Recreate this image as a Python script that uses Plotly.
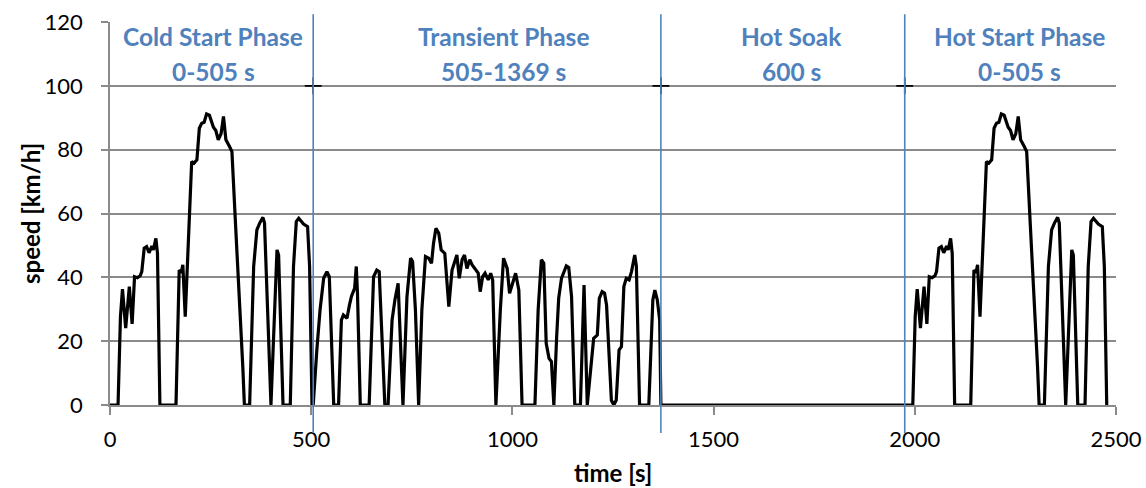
import plotly.graph_objects as go

# FTP-75 speed trace (time in s, speed in km/h)
# Phase 1: cold start, 0-505 s
cold_t = [0, 20, 26, 31, 39, 48, 55, 61, 68, 75, 79, 85, 91, 97, 104, 108, 114, 118, 124,
          164, 172, 177, 181, 187, 203, 209, 216, 222, 228, 234, 240, 247, 257, 263, 269,
          276, 282, 288, 297, 303, 311, 315, 323, 330, 334, 347, 357, 365, 372, 380, 384,
          398, 400, 415, 419, 430, 448, 456, 463, 469, 481, 491, 496, 502]
cold_v = [0, 0, 27.7, 36.3, 24.1, 37.1, 25.4, 40.2, 39.9, 40.5, 41.8, 49.1, 49.6, 47.7, 49.8, 48.6, 52.2, 47.5, 0,
          0, 42.3, 41.4, 43.9, 27.7, 76.3, 75.8, 76.8, 86.7, 88.3, 88.6, 91.2, 90.8, 87.0, 86.0, 83.1,
          85.0, 90.4, 83.1, 81.0, 79.4, 59.0, 49.6, 30.8, 12.0, 0, 0, 43.4, 54.9, 57.0, 58.8, 57.0,
          0, 0, 48.6, 47.0, 0, 0, 43.4, 57.5, 58.5, 56.7, 55.9, 43.4, 0]

# Phase 2: transient, 505-1369 s
trans_t = [505, 514, 522, 531, 539, 545, 556, 568, 575, 580, 589, 595, 600, 608, 612, 615, 622,
           644, 655, 663, 669, 683, 691, 701, 708, 716, 728, 738, 747, 752, 759, 767, 775, 784,
           792, 799, 804, 810, 817, 823, 832, 842, 850, 862, 868, 875, 881, 887, 894, 900, 908,
           915, 920, 926, 932, 940, 946, 951, 959, 970, 978, 987, 993, 999, 1008, 1016, 1024,
           1056, 1064, 1072, 1078, 1084, 1091, 1097, 1103, 1110, 1115, 1122, 1128, 1134, 1140,
           1147, 1155, 1169, 1178, 1186, 1202, 1211, 1216, 1223, 1229, 1234, 1246, 1252, 1258,
           1265, 1271, 1277, 1283, 1290, 1296, 1304, 1308, 1316, 1339, 1349, 1354, 1360, 1366, 1369]
trans_v = [0, 17.2, 29.8, 39.7, 41.8, 40.2, 0, 0, 26.6, 28.2, 27.2, 31.3, 34.0, 36.6, 43.4, 35.0, 0,
           0, 40.2, 42.3, 41.8, 0, 0, 26.6, 32.9, 38.1, 0, 34.0, 46.0, 45.0, 29.8, 0, 29.8, 46.5,
           46.0, 44.4, 50.7, 55.4, 53.8, 48.6, 47.5, 30.8, 42.3, 47.0, 39.7, 45.5, 47.0, 42.8, 45.5, 43.9, 42.3,
           41.3, 35.5, 40.2, 41.3, 39.2, 41.3, 39.2, 0, 29.8, 46.0, 42.8, 35.0, 37.6, 41.3, 36.0, 0,
           0, 29.8, 45.5, 44.4, 19.3, 14.6, 13.6, 0, 21.4, 33.4, 39.7, 41.8, 43.6, 43.1,
           34.0, 0, 0, 37.6, 0, 20.9, 21.9, 33.4, 35.5, 35.0, 31.3, 1.5, 0, 1.5,
           17.2, 18.3, 37.1, 39.7, 39.2, 41.8, 47.0, 43.6, 0, 0, 32.9, 36.0, 33.0, 26.6, 0]

# Phase boundaries (s); the hot start phase repeats the cold start trace
phase_bounds = [505, 1369, 1975]
hot_start = 1975

phase_names = ["Cold Start Phase", "Transient Phase", "Hot Soak", "Hot Start Phase"]
phase_spans = ["0-505 s", "505-1369 s", "600 s", "0-505 s"]
label_x = [256, 978, 1694, 2261]

x_ticks = [0, 500, 1000, 1500, 2000, 2500]
y_ticks = [0, 20, 40, 60, 80, 100, 120]

t = cold_t + trans_t + [hot_start] + [hot_start + s for s in cold_t]
v = cold_v + trans_v + [0] + cold_v

FONT = "Lato"
BLUE = "#4F81BD"
GRID = "#8A8A8A"

fig = go.Figure()
fig.add_trace(go.Scatter(x=t, y=v, mode="lines",
                         line=dict(color="black", width=3.2),
                         cliponaxis=False, showlegend=False))

# small markers where the phase dividers cross 100 km/h
fig.add_trace(go.Scatter(x=phase_bounds, y=[100] * len(phase_bounds), mode="markers",
                         marker=dict(symbol="cross-thin", size=12,
                                     line=dict(color="black", width=1.6)),
                         showlegend=False))

shapes = []
for b in phase_bounds:
    shapes.append(dict(type="line", xref="x", yref="paper", x0=b, x1=b,
                       y0=-0.073, y1=1.02, line=dict(color=BLUE, width=1.6)))

annotations = []
for name, span, lx in zip(phase_names, phase_spans, label_x):
    annotations.append(dict(x=lx, y=0.961, xref="x", yref="paper", text=name,
                            showarrow=False, xanchor="center", yanchor="middle",
                            font=dict(family=FONT, size=24.5, color=BLUE, weight="bold")))
    annotations.append(dict(x=lx, y=0.872, xref="x", yref="paper", text=span,
                            showarrow=False, xanchor="center", yanchor="middle",
                            font=dict(family=FONT, size=24.5, color=BLUE, weight="bold")))

annotations.append(dict(x=-0.079, y=0.5, xref="paper", yref="paper", text="speed [km/h]",
                        textangle=-90, showarrow=False, xanchor="center", yanchor="middle",
                        font=dict(family=FONT, size=24, color="black", weight="bold")))
annotations.append(dict(x=0.5, y=-0.176, xref="paper", yref="paper", text="time [s]",
                        showarrow=False, xanchor="center", yanchor="middle",
                        font=dict(family=FONT, size=24, color="black", weight="bold")))

fig.update_layout(
    width=1146, height=488,
    margin=dict(l=110, r=30, t=22, b=83),
    paper_bgcolor="white", plot_bgcolor="white",
    font=dict(family=FONT, size=22, color="black"),
    shapes=shapes, annotations=annotations,
    xaxis=dict(range=[0, 2500], tickvals=x_ticks, showgrid=False, zeroline=False,
               automargin=False,
               showline=True, linecolor=GRID, linewidth=1.5,
               ticks="outside", ticklen=8, tickwidth=1.5, tickcolor=GRID,
               ticklabelstandoff=6, tickfont=dict(family=FONT, size=22)),
    yaxis=dict(range=[0, 120], tickvals=y_ticks, showgrid=True, gridcolor=GRID, gridwidth=1.5,
               automargin=False,
               zeroline=False, showline=True, linecolor=GRID, linewidth=1.5,
               ticks="outside", ticklen=7, tickwidth=1.5, tickcolor=GRID,
               ticklabelstandoff=14, tickfont=dict(family=FONT, size=22)),
)

fig.write_html("out.html")
